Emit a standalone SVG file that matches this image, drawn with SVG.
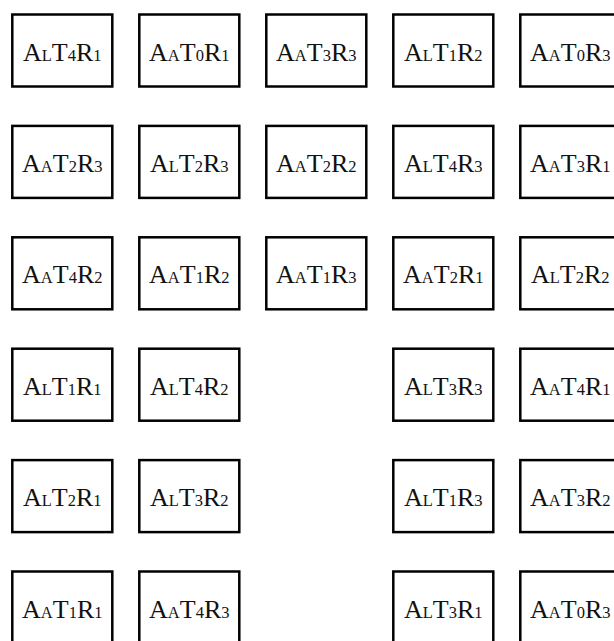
<svg xmlns="http://www.w3.org/2000/svg" width="614" height="641" viewBox="0 0 614 641">
<style>
rect.b{fill:#fff;stroke:#000;stroke-width:2.5}
text{font-family:"Liberation Serif","Times New Roman",serif;font-size:26px;fill:#111;text-anchor:middle}
tspan.s{font-size:16.5px}
</style>
<rect width="614" height="641" fill="#fff"/>
<g id="connectors"></g>
<g id="n1"><rect class="b" x="12.3" y="14.5" width="100" height="72"/><text x="62.3" y="60.5">A<tspan class="s">L</tspan>T<tspan class="s">4</tspan>R<tspan class="s">1</tspan></text></g>
<g id="n2"><rect class="b" x="139.3" y="14.5" width="100" height="72"/><text x="189.3" y="60.5">A<tspan class="s">A</tspan>T<tspan class="s">0</tspan>R<tspan class="s">1</tspan></text></g>
<g id="n3"><rect class="b" x="266.3" y="14.5" width="100" height="72"/><text x="316.3" y="60.5">A<tspan class="s">A</tspan>T<tspan class="s">3</tspan>R<tspan class="s">3</tspan></text></g>
<g id="n4"><rect class="b" x="393.3" y="14.5" width="100" height="72"/><text x="443.3" y="60.5">A<tspan class="s">L</tspan>T<tspan class="s">1</tspan>R<tspan class="s">2</tspan></text></g>
<g id="n5"><rect class="b" x="520.3" y="14.5" width="100" height="72"/><text x="570.3" y="60.5">A<tspan class="s">A</tspan>T<tspan class="s">0</tspan>R<tspan class="s">3</tspan></text></g>

<g id="n6"><rect class="b" x="12.3" y="125.9" width="100" height="72"/><text x="62.3" y="171.9">A<tspan class="s">A</tspan>T<tspan class="s">2</tspan>R<tspan class="s">3</tspan></text></g>
<g id="n7"><rect class="b" x="139.3" y="125.9" width="100" height="72"/><text x="189.3" y="171.9">A<tspan class="s">L</tspan>T<tspan class="s">2</tspan>R<tspan class="s">3</tspan></text></g>
<g id="n8"><rect class="b" x="266.3" y="125.9" width="100" height="72"/><text x="316.3" y="171.9">A<tspan class="s">A</tspan>T<tspan class="s">2</tspan>R<tspan class="s">2</tspan></text></g>
<g id="n9"><rect class="b" x="393.3" y="125.9" width="100" height="72"/><text x="443.3" y="171.9">A<tspan class="s">L</tspan>T<tspan class="s">4</tspan>R<tspan class="s">3</tspan></text></g>
<g id="n10"><rect class="b" x="520.3" y="125.9" width="100" height="72"/><text x="570.3" y="171.9">A<tspan class="s">A</tspan>T<tspan class="s">3</tspan>R<tspan class="s">1</tspan></text></g>

<g id="n11"><rect class="b" x="12.3" y="237.3" width="100" height="72"/><text x="62.3" y="283.3">A<tspan class="s">A</tspan>T<tspan class="s">4</tspan>R<tspan class="s">2</tspan></text></g>
<g id="n12"><rect class="b" x="139.3" y="237.3" width="100" height="72"/><text x="189.3" y="283.3">A<tspan class="s">A</tspan>T<tspan class="s">1</tspan>R<tspan class="s">2</tspan></text></g>
<g id="n13"><rect class="b" x="266.3" y="237.3" width="100" height="72"/><text x="316.3" y="283.3">A<tspan class="s">A</tspan>T<tspan class="s">1</tspan>R<tspan class="s">3</tspan></text></g>
<g id="n14"><rect class="b" x="393.3" y="237.3" width="100" height="72"/><text x="443.3" y="283.3">A<tspan class="s">A</tspan>T<tspan class="s">2</tspan>R<tspan class="s">1</tspan></text></g>
<g id="n15"><rect class="b" x="520.3" y="237.3" width="100" height="72"/><text x="570.3" y="283.3">A<tspan class="s">L</tspan>T<tspan class="s">2</tspan>R<tspan class="s">2</tspan></text></g>

<g id="n16"><rect class="b" x="12.3" y="348.7" width="100" height="72"/><text x="62.3" y="394.7">A<tspan class="s">L</tspan>T<tspan class="s">1</tspan>R<tspan class="s">1</tspan></text></g>
<g id="n17"><rect class="b" x="139.3" y="348.7" width="100" height="72"/><text x="189.3" y="394.7">A<tspan class="s">L</tspan>T<tspan class="s">4</tspan>R<tspan class="s">2</tspan></text></g>
<g id="n18"><rect class="b" x="393.3" y="348.7" width="100" height="72"/><text x="443.3" y="394.7">A<tspan class="s">L</tspan>T<tspan class="s">3</tspan>R<tspan class="s">3</tspan></text></g>
<g id="n19"><rect class="b" x="520.3" y="348.7" width="100" height="72"/><text x="570.3" y="394.7">A<tspan class="s">A</tspan>T<tspan class="s">4</tspan>R<tspan class="s">1</tspan></text></g>

<g id="n20"><rect class="b" x="12.3" y="460.1" width="100" height="72"/><text x="62.3" y="506.1">A<tspan class="s">L</tspan>T<tspan class="s">2</tspan>R<tspan class="s">1</tspan></text></g>
<g id="n21"><rect class="b" x="139.3" y="460.1" width="100" height="72"/><text x="189.3" y="506.1">A<tspan class="s">L</tspan>T<tspan class="s">3</tspan>R<tspan class="s">2</tspan></text></g>
<g id="n22"><rect class="b" x="393.3" y="460.1" width="100" height="72"/><text x="443.3" y="506.1">A<tspan class="s">L</tspan>T<tspan class="s">1</tspan>R<tspan class="s">3</tspan></text></g>
<g id="n23"><rect class="b" x="520.3" y="460.1" width="100" height="72"/><text x="570.3" y="506.1">A<tspan class="s">A</tspan>T<tspan class="s">3</tspan>R<tspan class="s">2</tspan></text></g>

<g id="n24"><rect class="b" x="12.3" y="571.5" width="100" height="72"/><text x="62.3" y="617.5">A<tspan class="s">A</tspan>T<tspan class="s">1</tspan>R<tspan class="s">1</tspan></text></g>
<g id="n25"><rect class="b" x="139.3" y="571.5" width="100" height="72"/><text x="189.3" y="617.5">A<tspan class="s">A</tspan>T<tspan class="s">4</tspan>R<tspan class="s">3</tspan></text></g>
<g id="n26"><rect class="b" x="393.3" y="571.5" width="100" height="72"/><text x="443.3" y="617.5">A<tspan class="s">L</tspan>T<tspan class="s">3</tspan>R<tspan class="s">1</tspan></text></g>
<g id="n27"><rect class="b" x="520.3" y="571.5" width="100" height="72"/><text x="570.3" y="617.5">A<tspan class="s">A</tspan>T<tspan class="s">0</tspan>R<tspan class="s">3</tspan></text></g>
</svg>
